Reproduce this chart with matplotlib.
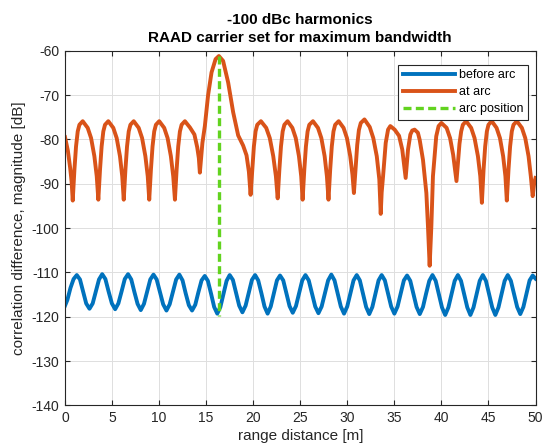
import matplotlib
matplotlib.use("Agg")
import matplotlib.pyplot as plt

plt.rcParams['font.family'] = ['Liberation Sans', 'DejaVu Sans']
plt.rcParams['axes.unicode_minus'] = False

# "at arc" curve (x in m, y in dB)
at_arc_x = [
    0.00, 0.30, 0.55, 0.70, 0.82,
    1.00, 1.17, 1.35, 1.53, 1.88, 2.41, 2.77, 3.12, 3.37, 3.54,
    3.72, 3.89, 4.07, 4.25, 4.60, 5.13, 5.49, 5.84, 6.08, 6.24,
    6.42, 6.59, 6.77, 6.95, 7.30, 7.83, 8.19, 8.54, 8.79, 8.95,
    9.13, 9.30, 9.48, 9.66, 10.01, 10.54, 10.90, 11.25, 11.50, 11.68,
    11.86, 12.03, 12.21, 12.39, 12.74, 13.27, 13.75, 14.05, 14.22, 14.33,
    14.45, 14.60, 14.86, 15.20, 15.57, 16.00, 16.35, 16.80, 17.34, 17.87,
    18.40, 18.93, 19.29, 19.54, 19.72,
    19.90, 20.07, 20.25, 20.43, 20.82, 21.38, 21.76, 22.13, 22.41, 22.60,
    22.78, 22.95, 23.13, 23.31, 23.65, 24.16, 24.52, 24.86, 25.10, 25.25,
    25.43, 25.60, 25.78, 25.96, 26.35, 26.88, 27.24, 27.59, 27.83, 28.00,
    28.18, 28.35, 28.53, 28.71, 29.08, 29.60, 29.96, 30.31, 30.55, 30.70,
    30.88, 31.05, 31.23, 31.43, 31.82, 32.38, 32.76, 33.13, 33.40, 33.55,
    33.65, 33.80, 34.08, 34.33, 34.57, 35.03, 35.50, 35.84, 36.06, 36.20,
    36.45, 36.70, 36.90, 37.15, 37.50, 37.69, 38.04, 38.40, 38.57, 38.75,
    38.93, 39.10, 39.45, 39.70, 40.00, 40.55, 40.92, 41.25, 41.45, 41.60,
    41.75, 41.92, 42.10, 42.28, 42.63, 43.16, 43.52, 43.88, 44.13, 44.30,
    44.48, 44.65, 44.83, 45.00, 45.35, 45.86, 46.22, 46.56, 46.80, 46.95,
    47.13, 47.30, 47.48, 47.66, 48.02, 48.55, 48.91, 49.26, 49.50, 49.70,
    49.85, 50.00,
]
at_arc_db = [
    -79.5, -82.5, -86.5, -89.5, -93.8,
    -86.8, -81.6, -78.2, -76.7, -75.9, -77.4, -79.7, -83.8, -88.3, -93.6,
    -86.8, -81.6, -78.2, -76.7, -75.9, -77.4, -79.7, -83.8, -88.3, -93.6,
    -86.8, -81.6, -78.2, -76.7, -75.9, -77.4, -79.7, -83.8, -88.3, -93.6,
    -86.8, -81.6, -78.2, -76.7, -75.9, -77.4, -79.7, -83.8, -88.3, -93.6,
    -86.8, -81.6, -78.2, -76.7, -75.9, -77.3, -78.9, -81.8, -84.2, -87.5,
    -84.5, -80.8, -77.0, -70.1, -64.9, -61.9, -61.2, -62.3, -67.2, -73.9,
    -79.1, -81.4, -83.6, -87.3, -92.5,
    -86.8, -81.6, -78.2, -76.7, -75.9, -77.4, -79.7, -83.8, -88.3, -93.3,
    -86.8, -81.6, -78.2, -76.7, -75.9, -77.4, -79.7, -83.8, -88.3, -93.6,
    -86.8, -81.6, -78.2, -76.7, -75.9, -77.4, -79.7, -83.8, -88.3, -93.6,
    -86.8, -81.6, -78.2, -76.7, -75.9, -77.4, -79.7, -83.8, -88.0, -92.1,
    -86.5, -81.3, -77.9, -76.3, -75.5, -77.2, -79.7, -83.8, -89.0, -96.8,
    -92.0, -88.3, -80.8, -77.8, -77.0, -77.8, -79.2, -82.3, -86.1, -88.7,
    -82.3, -78.9, -78.0, -77.8, -78.5, -80.1, -84.6, -92.1, -99.6, -108.5,
    -99.6, -88.3, -79.3, -77.0, -76.3, -77.4, -79.7, -83.5, -86.8, -89.4,
    -85.5, -81.0, -78.2, -76.7, -75.9, -77.4, -79.7, -83.8, -88.3, -94.3,
    -86.8, -81.6, -78.2, -76.7, -75.9, -77.4, -79.7, -83.8, -88.3, -93.8,
    -86.8, -81.6, -78.2, -76.7, -75.9, -77.4, -79.7, -83.8, -88.3, -92.8,
    -90.0, -88.7,
]

# "before arc" curve
before_arc_x = [
    0.00, 0.25, 0.58, 0.91, 1.25,
    1.59, 1.92, 2.25, 2.60, 2.94, 3.27, 3.61, 3.95,
    4.29, 4.63, 4.98, 5.33, 5.67, 6.01, 6.35, 6.70,
    7.04, 7.37, 7.71, 8.05, 8.39, 8.72, 9.06, 9.40,
    9.74, 10.09, 10.43, 10.78, 11.12, 11.46, 11.81, 12.15,
    12.49, 12.82, 13.16, 13.50, 13.84, 14.17, 14.51, 14.85,
    15.18, 15.52, 15.85, 16.18, 16.51, 16.84, 17.17, 17.50,
    17.84, 18.17, 18.51, 18.85, 19.19, 19.52, 19.86, 20.20,
    20.53, 20.87, 21.20, 21.53, 21.86, 22.19, 22.52, 22.85,
    23.19, 23.52, 23.86, 24.20, 24.54, 24.88, 25.21, 25.55,
    25.90, 26.24, 26.59, 26.93, 27.27, 27.62, 27.96, 28.30,
    28.64, 28.97, 29.31, 29.65, 29.99, 30.33, 30.66, 31.00,
    31.33, 31.67, 32.00, 32.33, 32.66, 32.99, 33.32, 33.65,
    33.99, 34.32, 34.66, 35.00, 35.34, 35.68, 36.01, 36.35,
    36.69, 37.02, 37.36, 37.70, 38.04, 38.37, 38.71, 39.05,
    39.39, 39.72, 40.06, 40.40, 40.74, 41.08, 41.41, 41.75,
    42.08, 42.41, 42.75, 43.08, 43.41, 43.74, 44.07, 44.40,
    44.73, 45.06, 45.40, 45.73, 46.06, 46.39, 46.72, 47.05,
    47.38, 47.71, 48.05, 48.38, 48.71, 49.04, 49.37, 49.70,
    50.00,
]
before_arc_db = [
    -117.5, -116.2, -113.5, -111.5, -110.6,
    -111.6, -114.3, -117.0, -118.2, -117.0, -114.3, -111.6, -110.4,
    -111.5, -114.3, -117.0, -118.3, -117.0, -114.3, -111.5, -110.4,
    -111.6, -114.4, -117.1, -118.5, -117.1, -114.4, -111.6, -110.5,
    -111.6, -114.4, -117.2, -118.6, -117.2, -114.4, -111.6, -110.5,
    -111.8, -114.7, -117.4, -118.6, -117.3, -114.5, -111.8, -110.8,
    -111.9, -114.8, -117.8, -119.3, -117.8, -114.8, -111.9, -110.6,
    -111.7, -114.6, -117.5, -119.0, -117.5, -114.6, -111.7, -110.6,
    -111.8, -114.7, -117.7, -119.3, -117.7, -114.7, -111.8, -110.7,
    -111.8, -114.7, -117.6, -119.1, -117.6, -114.7, -111.8, -110.6,
    -111.8, -114.7, -117.7, -119.2, -117.7, -114.7, -111.8, -110.5,
    -111.8, -114.7, -117.7, -119.3, -117.7, -114.7, -111.8, -110.6,
    -111.8, -114.8, -117.8, -119.4, -117.8, -114.8, -111.8, -110.6,
    -111.8, -114.7, -117.7, -119.3, -117.7, -114.7, -111.8, -110.7,
    -111.9, -114.8, -117.8, -119.4, -117.8, -114.8, -111.9, -110.6,
    -111.9, -114.9, -117.9, -119.6, -117.9, -114.9, -111.9, -110.6,
    -111.9, -114.9, -117.9, -119.6, -117.9, -114.9, -111.9, -110.6,
    -111.9, -114.9, -117.9, -119.6, -117.9, -114.9, -111.9, -110.6,
    -111.9, -114.8, -117.8, -119.4, -117.8, -114.8, -111.8, -110.7,
    -111.4,
]

arc_x = [16.4, 16.4]
arc_db = [-61.2, -119.8]

x_ticks = [0, 5, 10, 15, 20, 25, 30, 35, 40, 45, 50]
y_ticks = [-140, -130, -120, -110, -100, -90, -80, -70, -60]

fig = plt.figure(figsize=(5.45, 4.44), dpi=100)
ax = fig.add_axes([0.1193, 0.0869, 0.8633, 0.7989])

ax.plot(before_arc_x, before_arc_db, color='#0072BD', lw=2.8, label='before arc')
ax.plot(at_arc_x, at_arc_db, color='#D95319', lw=2.8, label='at arc')
ax.plot(arc_x, arc_db, color='#62D31F', lw=2.4, linestyle=(0, (2.4, 1.3)),
        label='arc position')

ax.set_xlim(0, 50)
ax.set_ylim(-140, -60)
ax.set_xticks(x_ticks)
ax.set_yticks(y_ticks)
ax.grid(True, color='#DEDEDE', lw=0.7)
ax.set_axisbelow(True)
for s in ax.spines.values():
    s.set_color('#262626')
    s.set_linewidth(0.8)
ax.tick_params(direction='in', top=True, right=True, length=3.5, width=0.8,
               colors='#262626', labelsize=10, pad=4)

ax.set_xlabel('range distance [m]', fontsize=11, color='#262626', labelpad=3)
ax.set_ylabel('correlation difference, magnitude [dB]', fontsize=11,
              color='#262626', labelpad=4)
ax.set_title('-100 dBc harmonics\nRAAD carrier set for maximum bandwidth',
             fontsize=11, fontweight='bold', color='black', pad=6,
             linespacing=1.4)

leg = ax.legend(loc='upper right', bbox_to_anchor=(0.984, 0.96), fontsize=9,
                handlelength=4.2, handletextpad=0.3, borderpad=0.35,
                labelspacing=0.4, fancybox=False, framealpha=1,
                borderaxespad=0)
leg.get_frame().set_edgecolor('#262626')
leg.get_frame().set_linewidth(0.8)

fig.savefig('out.png', dpi=100)
